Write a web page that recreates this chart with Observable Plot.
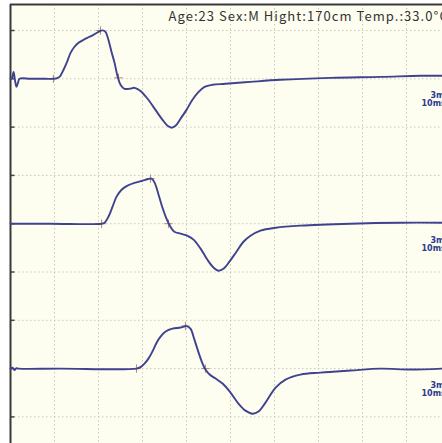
<!DOCTYPE html>
<html>
<head>
<meta charset="utf-8">
<script src="https://cdn.jsdelivr.net/npm/d3@7"></script>
<script src="https://cdn.jsdelivr.net/npm/@observablehq/plot@0.6"></script>
<style>
  html, body { margin: 0; padding: 0; background: #ffffff; }
  #chart svg { display: block; }
</style>
</head>
<body>
<div id="chart"></div>
<script>
// ---- data (time in ms, amplitude in mV relative to each trace's baseline) ----
const title = "Age:23 Sex:M Hight:170cm Temp.:33.0°C";
const sensLabel = "3mV";
const sweepLabel = "10ms";

const t1 = [0,0.07,0.14,0.2,0.27,0.34,0.41,0.91,1.59,1.95,2.09,2.23,2.41,2.59,2.73,2.91,3.09,3.32,3.55,3.77,4.0,4.18,4.32,4.45,4.59,4.73,4.86,5.0,5.18,5.41,5.64,5.91,6.23,6.59,6.91,7.14,7.32,7.5,7.73,8.0,8.27,8.55,8.82,9.18,9.77,10.91,12.27,14.55,16.82,18.64,19.64];
const a1 = [0,0.06,0.43,-0.06,-0.5,-0.25,0,0,0,0,0.03,0.12,0.56,1.12,1.61,1.99,2.24,2.42,2.58,2.73,2.92,3.01,2.92,2.42,1.68,0.99,0.19,-0.37,-0.62,-0.62,-0.56,-0.75,-1.24,-1.93,-2.55,-2.92,-3.04,-2.92,-2.48,-1.93,-1.3,-0.81,-0.5,-0.37,-0.31,-0.19,-0.06,0.06,0.12,0.19,0.19];

const t2 = [0,1.82,4.14,4.27,4.45,4.64,4.82,5.05,5.32,5.68,6.0,6.23,6.41,6.55,6.73,6.91,7.09,7.27,7.45,7.73,8.05,8.32,8.64,8.95,9.23,9.45,9.68,9.95,10.27,10.59,10.91,11.36,12.05,13.18,15.45,17.73,19.64];
const a2 = [0,0,0,0.06,0.43,1.06,1.68,2.11,2.36,2.55,2.67,2.76,2.8,2.55,1.8,0.99,0.31,-0.19,-0.5,-0.62,-0.75,-0.99,-1.55,-2.24,-2.73,-2.92,-2.8,-2.36,-1.74,-1.12,-0.75,-0.43,-0.25,-0.12,0,0.06,0.06];

const t3 = [0,0.09,0.18,0.27,0.36,2.27,5.73,5.91,6.09,6.27,6.45,6.64,6.82,7.05,7.36,7.73,8.0,8.18,8.36,8.55,8.73,8.86,9.05,9.32,9.64,10.0,10.36,10.68,11.0,11.27,11.59,12.05,12.5,13.18,14.09,15.45,16.82,18.18,19.64];
const a3 = [0,0.06,-0.09,0.03,0,0,0,0.09,0.31,0.62,1.06,1.61,1.99,2.3,2.48,2.55,2.64,2.48,1.8,0.99,0.31,-0.06,-0.37,-0.62,-0.93,-1.49,-2.17,-2.61,-2.8,-2.67,-2.11,-1.18,-0.68,-0.37,-0.25,-0.12,0,-0.06,0];

// baseline offsets of the three traces (mV on the shared display scale, 3 mV/div)
const offsets = [21, 12, 3];

// latency markers (onset, peak, baseline crossing) per trace
const markT = [[1.95, 4.09, 4.91], [4.14, 6.36, 7.18], [5.73, 7.95, 8.86]];
const markA = [[0, 3.0, 0.06], [0, 2.8, 0], [0, 2.65, 0]];

// grid ticks
const xTicks = [0, 2, 4, 6, 8, 10, 12, 14, 16, 18];
const yTicks = [0, 3, 6, 9, 12, 15, 18, 21, 24];

// ---- build tables ----
const traces = [[t1, a1], [t2, a2], [t3, a3]];
const lineData = traces.flatMap(([ts, as], i) =>
  ts.map((t, j) => ({trace: i, t, v: offsets[i] + as[j]})));
const markData = markT.flatMap((ts, i) =>
  ts.map((t, j) => ({trace: i, t, v: offsets[i] + markA[i][j]})));
const labelData = offsets.map((o, i) => ({trace: i, v: o}));

const W = 442, H = 443;
const xMax = 19.636;
const yMin = -1.652, yMax = 25.615;

const chart = Plot.plot({
  width: W,
  height: H,
  marginLeft: 10,
  marginRight: 0,
  marginTop: 4,
  marginBottom: 0,
  style: {background: "#ffffff", overflow: "hidden"},
  x: {domain: [0, xMax], axis: null},
  y: {domain: [yMin, yMax], axis: null},
  marks: [
    Plot.frame({fill: "#fdfdf0", stroke: null}),
    Plot.ruleX(xTicks.slice(1), {stroke: "#c8c8c0", strokeWidth: 1, strokeDasharray: "1.5,2.5"}),
    Plot.ruleY(yTicks, {stroke: "#c8c8c0", strokeWidth: 1, strokeDasharray: "1.5,2.5"}),
    Plot.ruleY(yTicks, {x1: 0, x2: 0.2, stroke: "#444", strokeWidth: 1.5}),
    Plot.ruleX([0], {stroke: "#3a3a3a", strokeWidth: 2}),
    Plot.ruleY([yMax], {stroke: "#3a3a3a", strokeWidth: 2}),
    Plot.dot(markData, {x: "t", y: "v", symbol: "plus", r: 2.8,
      stroke: "#b08a80", strokeWidth: 1}),
    Plot.line(lineData, {x: "t", y: "v", z: "trace", curve: "catmull-rom",
      stroke: "#3f428f", strokeWidth: 1.9}),
    Plot.text([title], {frameAnchor: "top-left", textAnchor: "start", lineAnchor: "top",
      dx: 158, dy: 7, fontSize: 13, fill: "#333",
      fontFamily: "'Noto Sans CJK JP', 'Noto Sans', sans-serif"}),
    Plot.text(labelData, {y: "v", text: () => sensLabel, frameAnchor: "right",
      textAnchor: "start", dx: -12, dy: 17, fontSize: 8, fontWeight: "bold",
      fill: "#2b3a8f", fontFamily: "'DejaVu Sans', sans-serif"}),
    Plot.text(labelData, {y: "v", text: () => sweepLabel, frameAnchor: "right",
      textAnchor: "start", dx: -21, dy: 24.5, fontSize: 8, fontWeight: "bold",
      fill: "#2b3a8f", fontFamily: "'DejaVu Sans', sans-serif"})
  ]
});
chart.querySelectorAll("text").forEach(t => {
  if (t.textContent === title) t.style.letterSpacing = "1.05px";
});
document.getElementById("chart").appendChild(chart);
</script>
</body>
</html>
